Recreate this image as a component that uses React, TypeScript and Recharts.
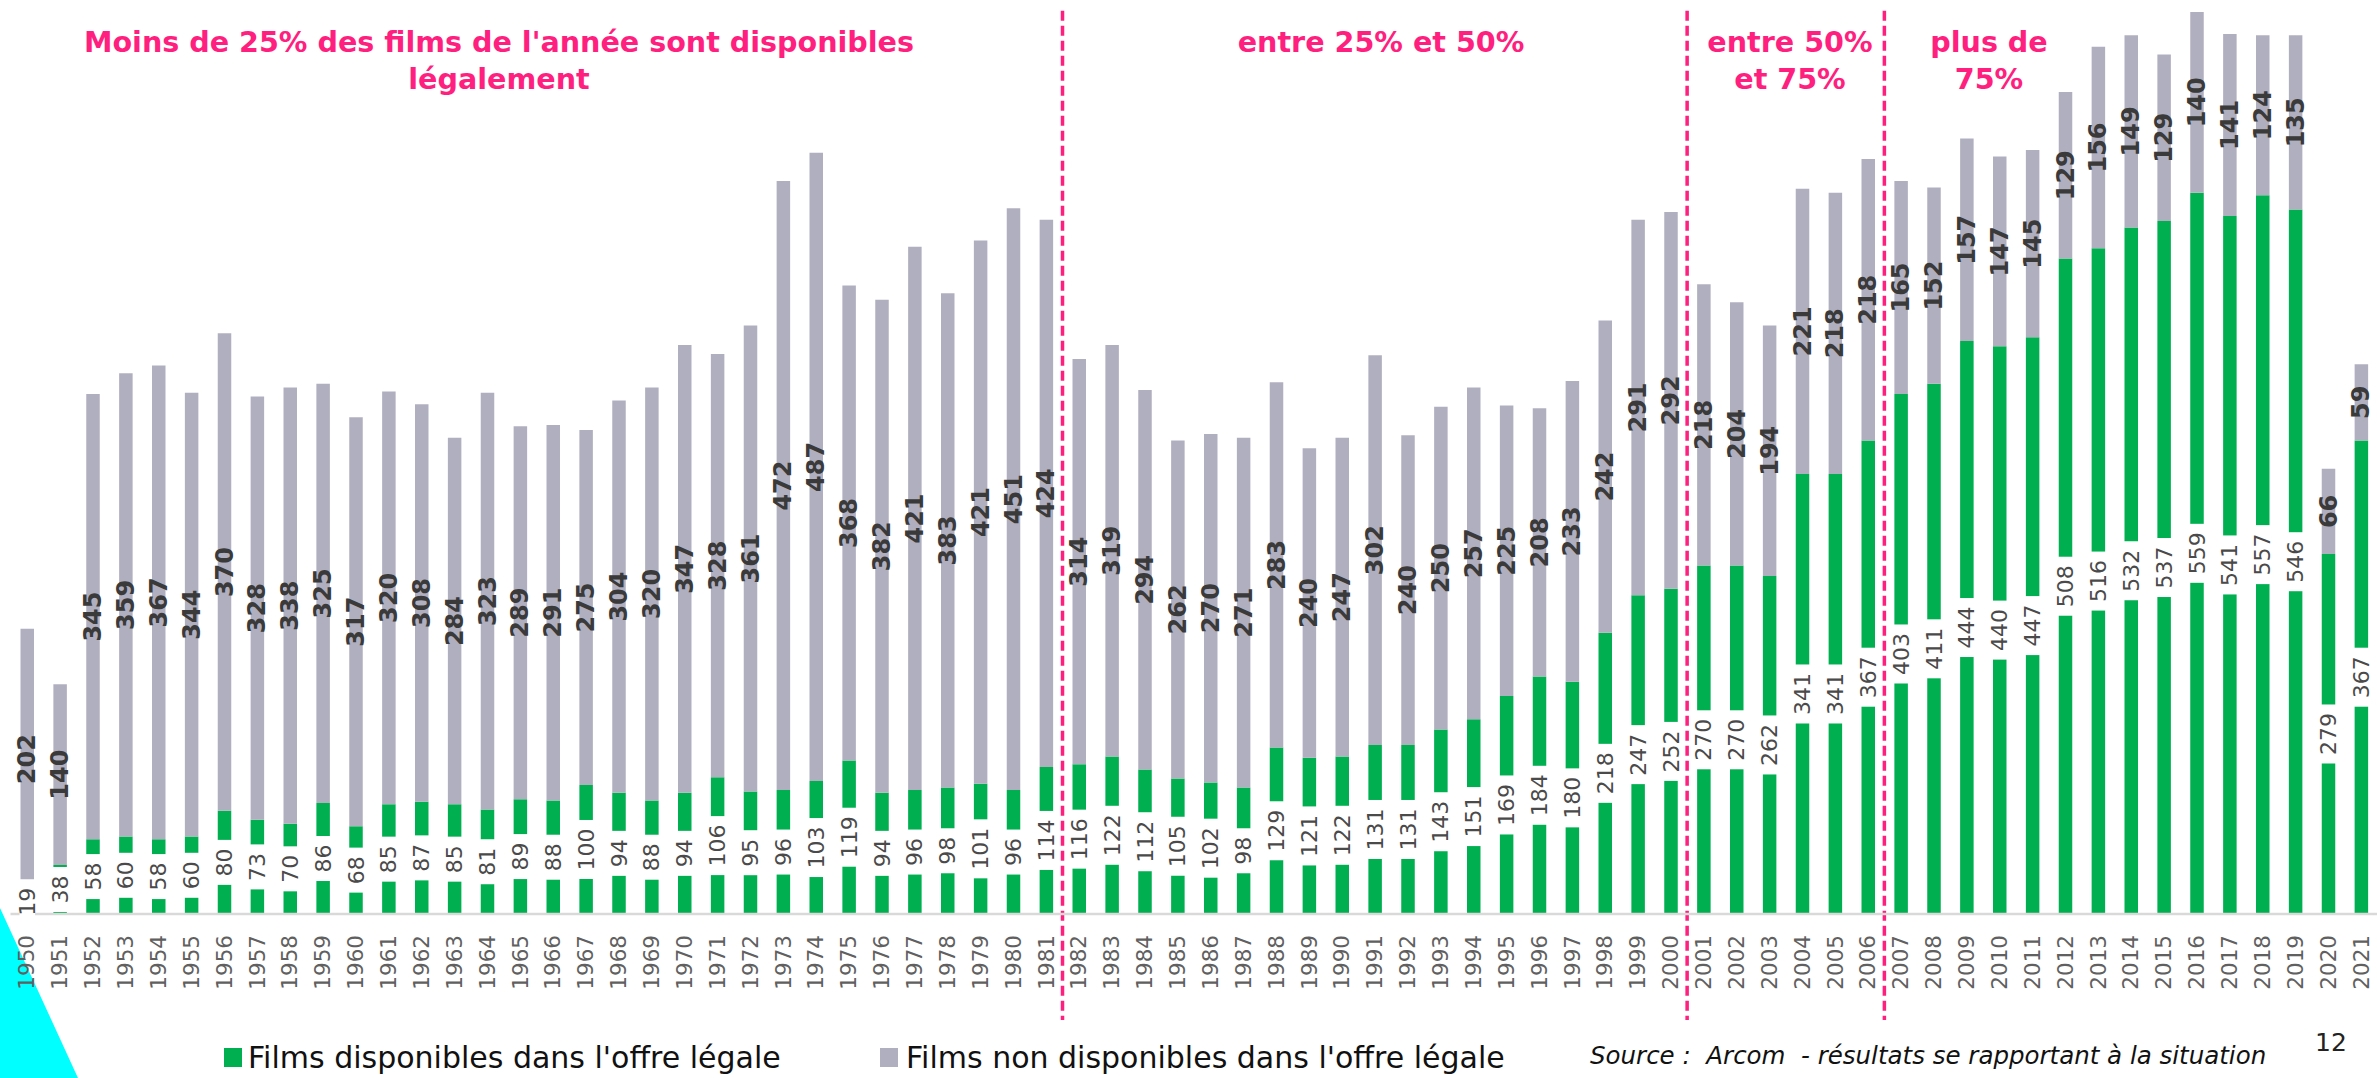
import React from 'react';
import { BarChart, Bar, XAxis, YAxis, LabelList, ReferenceLine } from 'recharts';

const years = [
  1950, 1951, 1952, 1953, 1954, 1955, 1956, 1957, 1958, 1959, 1960, 1961, 1962, 1963, 1964, 1965,
  1966, 1967, 1968, 1969, 1970, 1971, 1972, 1973, 1974, 1975, 1976, 1977, 1978, 1979, 1980, 1981,
  1982, 1983, 1984, 1985, 1986, 1987, 1988, 1989, 1990, 1991, 1992, 1993, 1994, 1995, 1996, 1997,
  1998, 1999, 2000, 2001, 2002, 2003, 2004, 2005, 2006, 2007, 2008, 2009, 2010, 2011, 2012, 2013,
  2014, 2015, 2016, 2017, 2018, 2019, 2020, 2021,
];

// Films disponibles dans l'offre légale
const availableFilms = [
  19, 38, 58, 60, 58, 60, 80, 73, 70, 86, 68, 85, 87, 85, 81, 89,
  88, 100, 94, 88, 94, 106, 95, 96, 103, 119, 94, 96, 98, 101, 96, 114,
  116, 122, 112, 105, 102, 98, 129, 121, 122, 131, 131, 143, 151, 169, 184, 180,
  218, 247, 252, 270, 270, 262, 341, 341, 367, 403, 411, 444, 440, 447, 508, 516,
  532, 537, 559, 541, 557, 546, 279, 367,
];

// Films non disponibles dans l'offre légale
const unavailableFilms = [
  202, 140, 345, 359, 367, 344, 370, 328, 338, 325, 317, 320, 308, 284, 323, 289,
  291, 275, 304, 320, 347, 328, 361, 472, 487, 368, 382, 421, 383, 421, 451, 424,
  314, 319, 294, 262, 270, 271, 283, 240, 247, 302, 240, 250, 257, 225, 208, 233,
  242, 291, 292, 218, 204, 194, 221, 218, 218, 165, 152, 157, 147, 145, 129, 156,
  149, 129, 140, 141, 124, 135, 66, 59,
];

// first year of each new availability band (a dashed separator is drawn before it)
const sectionStartYears = ['1982', '2001', '2007'];

const sectionTitleLines = [
  ["Moins de 25% des films de l'année sont disponibles", 'légalement'],
  ['entre 25% et 50%'],
  ['entre 50%', 'et 75%'],
  ['plus de', '75%'],
];

const legendLabels = [
  "Films disponibles dans l'offre légale",
  "Films non disponibles dans l'offre légale",
];

const sourceText = 'Source :  Arcom  - résultats se rapportant à la situation';
const pageNumber = '12';

const GREEN = '#00B050';
const GRAY = '#B0AFBF';
const PINK = '#FF1F7F';
const FONT = "'DejaVu Sans', sans-serif";

const data = years.map((y, i) => ({
  year: String(y),
  green: availableFilms[i],
  gray: unavailableFilms[i],
}));

const titleCentersX = [499, 1381, 1790, 1989];

const YearTick = (props: any) => {
  const { x, y, payload } = props;
  return (
    <text
      transform={`translate(${x},${y + 21}) rotate(-90)`}
      textAnchor="end"
      dominantBaseline="central"
      fontSize={21.5}
      fontWeight={400}
      fill="#606060"
      fontFamily={FONT}
    >
      {payload.value}
    </text>
  );
};

const renderLabels = (props: any) => {
  const vb = props.viewBox && props.viewBox.width !== undefined ? props.viewBox : props;
  const x = Number(vb.x);
  const y = Number(vb.y);
  const w = Number(vb.width);
  const h = Number(vb.height);
  let idx = years.indexOf(Number(props.value));
  if (idx < 0) idx = props.index;
  if (idx === undefined || idx < 0) return null;
  const g = availableFilms[idx];
  const n = unavailableFilms[idx];
  const top = Math.min(y, y + h);
  const hh = Math.abs(h);
  const ppu = hh / n;
  const cx = x + w / 2;
  const grayCy = top + hh / 2;
  const greenTop = top + hh;
  const greenCy = greenTop + (g * ppu) / 2;
  const gText = String(g);
  const boxH = gText.length * 14 + 17;
  return (
    <g>
      <rect x={cx - w / 2 - 1} y={greenCy - boxH / 2} width={w + 2} height={boxH} fill="#ffffff" />
      <text
        transform={`translate(${cx},${greenCy}) rotate(-90)`}
        textAnchor="middle"
        dominantBaseline="central"
        fontSize={22}
        fontWeight={400}
        fill="#4A4A4A"
        fontFamily={FONT}
      >
        {gText}
      </text>
      <text
        transform={`translate(${cx},${grayCy}) rotate(-90)`}
        textAnchor="middle"
        dominantBaseline="central"
        fontSize={24}
        fontWeight={700}
        fill="#3A3A3A"
        fontFamily={FONT}
      >
        {n}
      </text>
    </g>
  );
};

const dashShape = (props: any) => {
  const x1 = Number(props.x1);
  const x2 = Number(props.x2);
  const yTop = Math.min(Number(props.y1), Number(props.y2));
  const yBot = Math.max(Number(props.y1), Number(props.y2));
  return (
    <line
      x1={x1}
      x2={x2}
      y1={yTop}
      y2={yBot + 106}
      stroke={PINK}
      strokeWidth={3.5}
      strokeDasharray="10 5"
    />
  );
};

export default function App() {
  return (
    <div
      style={{
        position: 'absolute',
        left: 0,
        top: 0,
        width: 2377,
        height: 1078,
        overflow: 'hidden',
        background: '#ffffff',
        fontFamily: FONT,
      }}
    >
      <svg width={2377} height={1078} style={{ position: 'absolute', left: 0, top: 0 }}>
        <polygon points="0,908 0,1078 78,1078" fill="#00FFFF" />
      </svg>

      <div style={{ position: 'absolute', left: 0, top: 0 }}>
        <BarChart
          width={2390}
          height={1078}
          data={data}
          margin={{ top: 10.7, right: 12.5, left: 10.5, bottom: 64 }}
        >
          <XAxis
            dataKey="year"
            interval={0}
            height={100}
            tickLine={false}
            tickSize={0}
            tickMargin={0}
            axisLine={{ stroke: '#D9D9D9', strokeWidth: 2.5 }}
            tick={<YearTick />}
          />
          <YAxis hide domain={[0, 700]} allowDataOverflow />
          <Bar dataKey="green" stackId="a" fill={GREEN} barSize={13.5} isAnimationActive={false} />
          <Bar dataKey="gray" stackId="a" fill={GRAY} barSize={13.5} isAnimationActive={false}>
            <LabelList dataKey="year" content={renderLabels} />
          </Bar>
          {sectionStartYears.map((yr) => (
            <ReferenceLine
              key={yr}
              x={yr}
              position="start"
              stroke={PINK}
              strokeWidth={3.5}
              strokeDasharray="10 5"
              shape={dashShape}
            />
          ))}
        </BarChart>
      </div>

      {sectionTitleLines.map((lines, i) => (
        <div
          key={i}
          style={{
            position: 'absolute',
            left: titleCentersX[i],
            top: 24,
            transform: 'translateX(-50%)',
            color: PINK,
            fontWeight: 700,
            fontSize: 28.6,
            lineHeight: '37px',
            textAlign: 'center',
            whiteSpace: 'nowrap',
            fontFamily: FONT,
          }}
        >
          {lines.map((l, j) => (
            <div key={j}>{l}</div>
          ))}
        </div>
      ))}

      <div
        style={{
          position: 'absolute',
          left: 224,
          top: 1038,
          display: 'flex',
          alignItems: 'center',
          height: 38,
          fontSize: 30,
          color: '#111111',
          whiteSpace: 'nowrap',
        }}
      >
        <span style={{ display: 'inline-block', width: 18, height: 19, background: GREEN, marginRight: 6 }} />
        <span>{legendLabels[0]}</span>
      </div>
      <div
        style={{
          position: 'absolute',
          left: 880,
          top: 1038,
          display: 'flex',
          alignItems: 'center',
          height: 38,
          fontSize: 30,
          color: '#111111',
          whiteSpace: 'nowrap',
        }}
      >
        <span style={{ display: 'inline-block', width: 18, height: 19, background: GRAY, marginRight: 8 }} />
        <span>{legendLabels[1]}</span>
      </div>

      <div
        style={{
          position: 'absolute',
          left: 1590,
          top: 1040,
          fontSize: 24.5,
          fontStyle: 'italic',
          color: '#111111',
          whiteSpace: 'pre',
          lineHeight: '32px',
        }}
      >
        {sourceText}
      </div>
      <div
        style={{
          position: 'absolute',
          left: 2315,
          top: 1027,
          fontSize: 25,
          color: '#222222',
          lineHeight: '32px',
        }}
      >
        {pageNumber}
      </div>
    </div>
  );
}
